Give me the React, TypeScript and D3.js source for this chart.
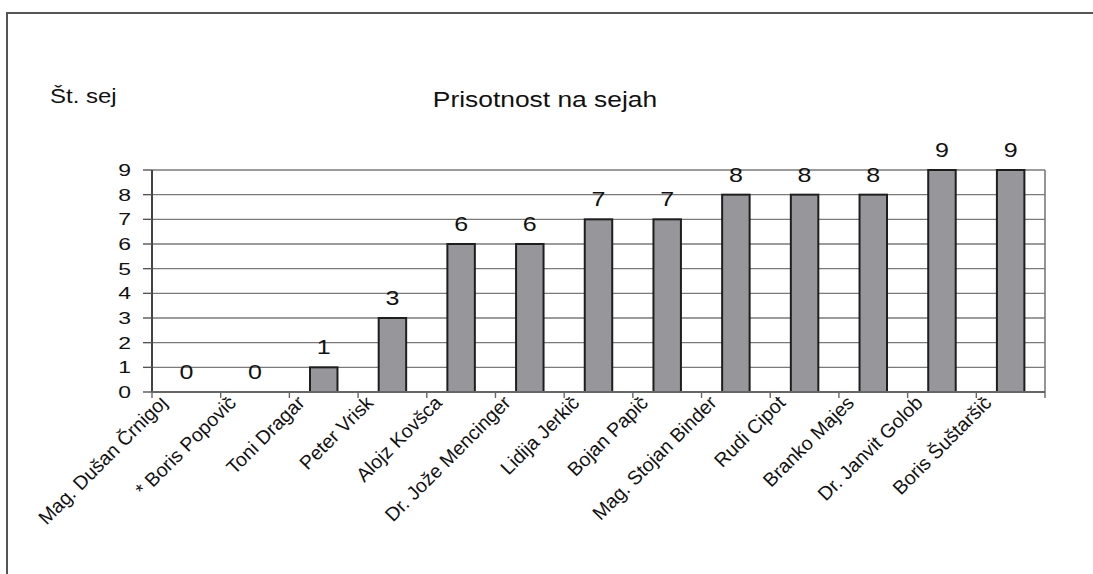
import React, { useEffect, useRef } from 'react';
import * as d3 from 'd3';

const names = [
  'Mag. Dušan Črnigoj',
  '* Boris Popovič',
  'Toni Dragar',
  'Peter Vrisk',
  'Alojz Kovšca',
  'Dr. Jože Mencinger',
  'Lidija Jerkič',
  'Bojan Papič',
  'Mag. Stojan Binder',
  'Rudi Cipot',
  'Branko Majes',
  'Dr. Janvit Golob',
  'Boris Šuštaršič'
];
const sessions = [0, 0, 1, 3, 6, 6, 7, 7, 8, 8, 8, 9, 9];
const yTicks = [0, 1, 2, 3, 4, 5, 6, 7, 8, 9];
const chartTitle = 'Prisotnost na sejah';
const yTitle = 'Št. sej';

const FONT = '"Liberation Sans", Arial, sans-serif';

const App = () => {
  const svgRef = useRef(null);

  useEffect(() => {
    const width = 1093;
    const height = 574;
    const margin = { top: 170, right: 48, bottom: 182, left: 152 };

    d3.select(svgRef.current).selectAll('*').remove();

    const svg = d3.select(svgRef.current)
      .attr('width', width)
      .attr('height', height)
      .style('font-family', FONT);

    svg.append('rect')
      .attr('width', width)
      .attr('height', height)
      .attr('fill', '#fff');

    // outer frame (only left and top edges show)
    svg.append('path')
      .attr('d', `M7,${height} L7,13 L${width},13`)
      .attr('fill', 'none')
      .attr('stroke', '#555')
      .attr('stroke-width', 2);

    const xScale = d3.scaleBand()
      .domain(names)
      .range([margin.left, width - margin.right]);

    const yScale = d3.scaleLinear()
      .domain([0, 9])
      .range([height - margin.bottom, margin.top]);

    const x0 = margin.left;
    const x1 = width - margin.right;
    const yBottom = height - margin.bottom;

    // gridlines
    svg.append('g')
      .selectAll('line')
      .data(yTicks.filter(d => d > 0))
      .join('line')
      .attr('x1', x0)
      .attr('x2', x1)
      .attr('y1', d => yScale(d))
      .attr('y2', d => yScale(d))
      .attr('stroke', '#7a7a7a')
      .attr('stroke-width', 1.4);

    // right border of plot
    svg.append('line')
      .attr('x1', x1).attr('x2', x1)
      .attr('y1', yScale(9)).attr('y2', yBottom)
      .attr('stroke', '#7a7a7a')
      .attr('stroke-width', 1.6);

    // bars
    const barWidth = xScale.bandwidth() * 0.4;
    svg.append('g')
      .selectAll('rect')
      .data(names.map((n, i) => ({ n, v: sessions[i] })).filter(d => d.v > 0))
      .join('rect')
      .attr('x', d => xScale(d.n)! + (xScale.bandwidth() - barWidth) / 2)
      .attr('y', d => yScale(d.v))
      .attr('width', barWidth)
      .attr('height', d => yBottom - yScale(d.v))
      .attr('fill', '#97979b')
      .attr('stroke', '#1e1e1e')
      .attr('stroke-width', 2);

    // y axis
    svg.append('line')
      .attr('x1', x0).attr('x2', x0)
      .attr('y1', yScale(9)).attr('y2', yBottom)
      .attr('stroke', '#444')
      .attr('stroke-width', 2);
    svg.append('g')
      .selectAll('line')
      .data(yTicks)
      .join('line')
      .attr('x1', x0 - 9)
      .attr('x2', x0)
      .attr('y1', d => yScale(d))
      .attr('y2', d => yScale(d))
      .attr('stroke', '#555')
      .attr('stroke-width', 1.4);
    svg.append('g')
      .selectAll('g')
      .data(yTicks)
      .join('g')
      .attr('transform', d => `translate(131,${yScale(d) + 6}) scale(1.35,1)`)
      .append('text')
      .attr('text-anchor', 'end')
      .attr('font-size', 17)
      .attr('fill', '#111')
      .text(d => d);

    // x axis
    svg.append('line')
      .attr('x1', x0).attr('x2', x1)
      .attr('y1', yBottom).attr('y2', yBottom)
      .attr('stroke', '#666')
      .attr('stroke-width', 2);
    const bounds = names.map(n => xScale(n)!).concat([x1]);
    svg.append('g')
      .selectAll('line')
      .data(bounds)
      .join('line')
      .attr('x1', d => d).attr('x2', d => d)
      .attr('y1', yBottom).attr('y2', yBottom + 6)
      .attr('stroke', '#666')
      .attr('stroke-width', 1.4);

    // category labels, rotated and clipped just under the axis
    svg.append('clipPath')
      .attr('id', 'lblclip')
      .append('rect')
      .attr('x', 0).attr('y', yBottom + 5)
      .attr('width', width).attr('height', height);
    svg.append('g')
      .attr('clip-path', 'url(#lblclip)')
      .selectAll('text')
      .data(names)
      .join('text')
      .attr('transform', d => `translate(${xScale(d)! + xScale.bandwidth() / 2 - 18},${yBottom + 12}) rotate(-45)`)
      .attr('text-anchor', 'end')
      .attr('font-size', 19.5)
      .attr('fill', '#111')
      .text(d => d);

    // value labels
    svg.append('g')
      .selectAll('g')
      .data(names.map((n, i) => ({ n, v: sessions[i] })))
      .join('g')
      .attr('transform', d => `translate(${xScale(d.n)! + xScale.bandwidth() / 2},${yScale(d.v) - 13}) scale(1.25,1)`)
      .append('text')
      .attr('text-anchor', 'middle')
      .attr('font-size', 20)
      .attr('fill', '#111')
      .text(d => d.v);

    // titles
    svg.append('g')
      .attr('transform', 'translate(545,107) scale(1.2,1)')
      .append('text')
      .attr('text-anchor', 'middle')
      .attr('font-size', 22)
      .attr('fill', '#111')
      .text(chartTitle);

    svg.append('g')
      .attr('transform', 'translate(50,103) scale(1.2,1)')
      .append('text')
      .attr('font-size', 20)
      .attr('fill', '#111')
      .text(yTitle);
  }, []);

  return (
    <div style={{ position: 'absolute', left: 0, top: 0 }}>
      <svg ref={svgRef} style={{ display: 'block' }}></svg>
    </div>
  );
};

export default App;
